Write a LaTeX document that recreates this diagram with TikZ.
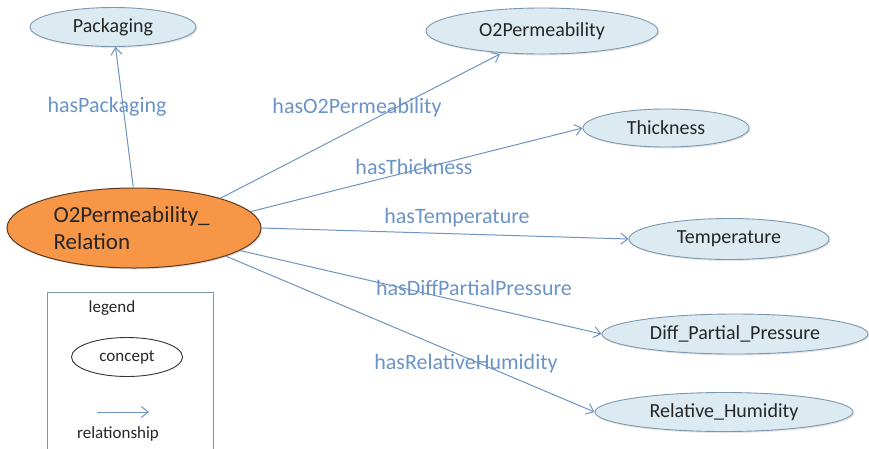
\documentclass[tikz,border=0pt]{standalone}
\usepackage{fontspec}
\setmainfont{Carlito}
\usetikzlibrary{shapes.geometric,arrows.meta,shadows}
\definecolor{cfill}{HTML}{DCEAF2}
\definecolor{cdraw}{HTML}{7C97AE}
\definecolor{ofill}{HTML}{F79646}
\definecolor{odraw}{HTML}{5A3A1E}
\definecolor{rel}{HTML}{6F93C3}
\definecolor{lab}{HTML}{6A93C8}
\tikzset{
  concept/.style={ellipse, draw=cdraw, fill=cfill, line width=0.9pt, inner sep=0pt,
    font=\fontsize{20}{24}\selectfont, text=black!85,
    drop shadow={shadow xshift=1.2pt, shadow yshift=-1.5pt, opacity=0.25, fill=black!40}},
  relarrow/.style={draw=rel, line width=1pt, -{Straight Barb[length=7pt,width=11pt,line width=1pt]}},
  rellabel/.style={text=lab, font=\fontsize{22}{26}\selectfont},
  legtext/.style={font=\fontsize{17}{20}\selectfont, text=black!85},
}
\begin{document}
\begin{tikzpicture}[x=1pt,y=-1pt]
\useasboundingbox (0,0) rectangle (869,448);
% concepts
\node[concept, minimum width=166pt, minimum height=39pt] (pack) at (113,27) {Packaging};
\node[concept, minimum width=232pt, minimum height=46pt] (o2p) at (542,31) {O2Permeability};
\node[concept, minimum width=166pt, minimum height=38pt] (thick) at (666,128) {Thickness};
\node[concept, minimum width=200pt, minimum height=41pt] (temp) at (729,239) {Temperature};
\node[concept, minimum width=266pt, minimum height=40pt] (diff) at (735,334) {Diff\_Partial\_Pressure};
\node[concept, minimum width=258pt, minimum height=39pt] (hum) at (724,412) {Relative\_Humidity};
% main relation
\node[ellipse, draw=odraw, fill=ofill, line width=1pt, minimum width=254pt, minimum height=80pt,
  inner sep=0pt, drop shadow={shadow xshift=1.2pt, shadow yshift=-1.5pt, opacity=0.25, fill=black!40}] (rel) at (134,228) {};
\node[anchor=west, align=left, font=\fontsize{23}{27}\selectfont, text=black!85] (reltext) at (50,228) {O2Permeability\_\\Relation};
% relationships
\coordinate (o2pend) at (500,54);
\draw[relarrow] (rel.91) -- (pack);
\draw[relarrow] (rel.19) -- (o2pend);
\draw[relarrow] (rel.8.6) -- (thick.west);
\draw[relarrow] (rel.0) -- (temp.west);
\draw[relarrow] (rel.-12.3) -- (diff.west);
\draw[relarrow] (rel.-17.5) -- (hum.west);
% labels
\node[rellabel] (l1) at (107,107) {hasPackaging};
\node[rellabel] (l2) at (357,108) {hasO2Permeability};
\node[rellabel] (l3) at (414,167) {hasThickness};
\node[rellabel] (l4) at (457,218) {hasTemperature};
\node[rellabel] (l5) at (474,288) {hasDiffPartialPressure};
\node[rellabel] (l6) at (466,364) {hasRelativeHumidity};
% legend
\draw[draw=cdraw, line width=0.9pt] (47,455) -- (47,292) -- (213,292) -- (213,455);
\node[legtext] (lg) at (112,308) {legend};
\node[ellipse, draw=black!80, line width=0.9pt, minimum width=111pt, minimum height=39pt, inner sep=0pt,
  legtext] (lc) at (127,357) {concept};
\coordinate (la1) at (97,412);
\coordinate (la2) at (149,412);
\draw[relarrow] (la1) -- (la2);
\node[legtext] (lr) at (118,434) {relationship};
\end{tikzpicture}
\end{document}
